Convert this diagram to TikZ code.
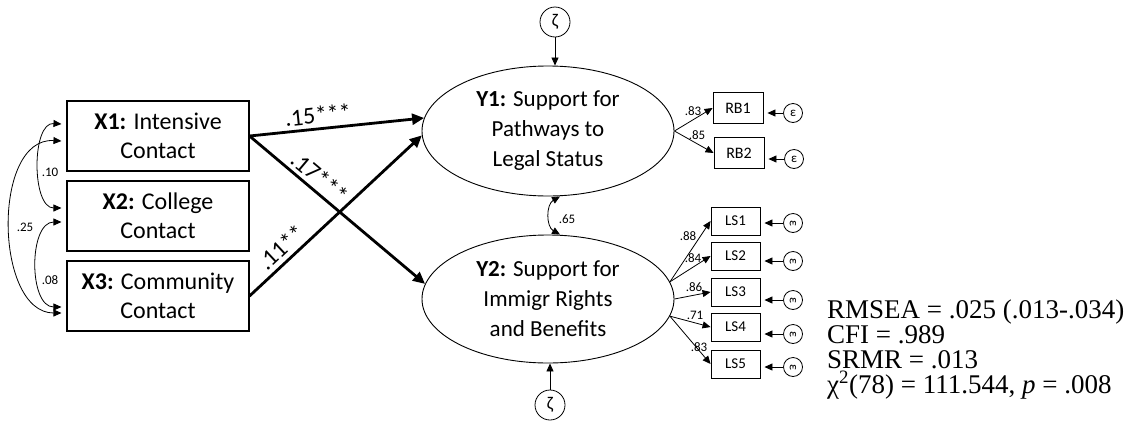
\documentclass[tikz,border=0pt]{standalone}
\usepackage{fontspec}
\setmainfont{Carlito}
\newfontfamily\statfont{Liberation Serif}
\usetikzlibrary{arrows.meta,shapes.geometric,calc}
\newcommand{\fsz}[2]{\fontsize{#1}{#2}\selectfont}

\begin{document}
\begin{tikzpicture}[x=1pt,y=-1pt,
  exo/.style={draw, line width=1.1pt, minimum width=182pt, minimum height=70pt,
    inner sep=0pt, align=center, font=\fsz{24}{29}},
  endo/.style={ellipse, draw, line width=0.9pt, minimum width=252pt, minimum height=130pt,
    inner sep=0pt, align=center, font=\fsz{23}{30}},
  ind/.style={draw, line width=0.9pt, minimum width=50pt, minimum height=31pt,
    inner sep=0pt, font=\fsz{16}{16}},
  lsbox/.style={ind, minimum width=49pt, minimum height=28pt, font=\fsz{15}{15}},
  err/.style={circle, draw, line width=0.8pt, minimum size=19pt, inner sep=0pt, font=\fsz{13}{13}},
  dist/.style={circle, draw, line width=0.8pt, minimum size=30pt, inner sep=0pt, font=\fsz{18}{18}},
  effect/.style={line width=2.8pt, -{Triangle[length=12pt,width=11pt]}},
  load/.style={line width=0.8pt, -{Triangle[length=8pt,width=7pt]}},
  cov/.style={line width=0.8pt, {Triangle[length=8pt,width=7pt]}-{Triangle[length=8pt,width=7pt]}},
  small/.style={font=\fsz{13}{13}, inner sep=0pt},
  coef/.style={font=\fsz{24}{24}, inner sep=4pt, sloped, above},
  stat/.style={font=\statfont\fsz{27}{27}, anchor=base west, inner sep=0pt}]

\useasboundingbox (0,0) rectangle (1135,421);

% exogenous predictors
\node[exo] (X1) at (158,136) {\textbf{X1:} Intensive\\Contact};
\node[exo] (X2) at (158,216) {\textbf{X2:} College\\Contact};
\node[exo] (X3) at (158,296) {\textbf{X3:} Community\\Contact};

% latent outcomes
\node[endo] (Y1) at (548,131) {\textbf{Y1:} Support for\\Pathways to\\Legal Status};
\node[endo, minimum height=128pt] (Y2) at (548,299) {\textbf{Y2:} Support for\\Immigr Rights\\and Benefits};

% disturbances
\node[dist] (Z1) at (555,22) {ζ};
\node[dist] (Z2) at (550,405) {ζ};
\draw[load] (Z1) -- (Z1 |- Y1.north);
\draw[load] (Z2) -- (Z2 |- Y2.south);

% indicators of Y1
\node[ind] (RB1) at (738,108) {RB1};
\node[ind] (RB2) at (739,153) {RB2};
\node[err] (E1) at (793,113) {ε};
\node[err] (E2) at (794,159) {ε};

% indicators of Y2
\foreach \i/\yb/\ye in {1/221/223, 2/256/261, 3/292/300, 4/327/334, 5/364/367}{
  \node[lsbox] (LS\i) at (735.5,\yb) {LS\i};
  \node[err, rotate=-90] (F\i) at (793,\ye) {ε};
  \draw[load, shorten >=4pt] (F\i) -- (F\i -| LS\i.east);
}
\draw[load, shorten >=4pt] (E1) -- (E1 -| RB1.east);
\draw[load, shorten >=4pt] (E2) -- (E2 -| RB2.east);

% loadings
\draw[load] (Y1.east) -- (RB1.west);
\draw[load] (Y1.east) -- (RB2.west);
\node[small] (l1) at (693,111) {.83};
\node[small] (l2) at (697,135) {.85};

\draw[load] (Y2.8) -- (LS1.west);
\draw[load] (Y2.8) -- (LS2.west);
\draw[load] (Y2.0) -- (LS3.west);
\draw[load] (Y2.-8) -- (LS4.west);
\draw[load] (Y2.-8) -- (LS5.west);
\node[small] (m1) at (688,236) {.88};
\node[small] (m2) at (693,258) {.84};
\node[small] (m3) at (694,287) {.86};
\node[small] (m4) at (695,315) {.71};
\node[small] (m5) at (699,347) {.83};

% structural paths
\draw[effect] (X1.east) -- node[coef, pos=0.4] {.15***} (Y1.174);
\draw[effect] (X1.east) -- node[coef, pos=0.35] {.17***} (Y2.173);
\draw[effect] (X3.east) -- node[coef, pos=0.24] {.11**} (Y1.182);

% residual covariance of the outcomes
\coordinate (r1) at ($(Y1.south)+(12,0)$);
\coordinate (r2) at ($(Y2.north)+(12,0)$);
\draw[cov] (r1) .. controls +(-14,8) and +(-14,-8) .. (r2);
\node[small] (c65) at (567,219) {.65};

% covariances of the predictors
\coordinate (a1) at ($(X1.west)+(-5,-12)$);
\coordinate (a2) at ($(X1.west)+(-5,5)$);
\coordinate (b1) at ($(X2.west)+(-5,-8)$);
\coordinate (b2) at ($(X2.west)+(-5,6)$);
\coordinate (c1) at ($(X3.west)+(-5,11)$);
\coordinate (c2) at ($(X3.west)+(-5,17)$);
\draw[cov] (a1) .. controls +(-30,-2) and +(-30,0) .. (b1);
\draw[cov] (a2) .. controls +(-70,-4) and +(-67,0) .. (c2);
\draw[cov] (b2) .. controls +(-33,0) and +(-33,0) .. (c1);
\node[small] (k10) at (50,172) {.10};
\node[small] (k25) at (25,227) {.25};
\node[small] (k08) at (50,280) {.08};

% fit statistics
\node[stat] (s1) at (827,318) {RMSEA = .025 (.013-.034)};
\node[stat] (s2) at (827,343) {CFI = .989};
\node[stat] (s3) at (827,368) {SRMR = .013};
\node[stat] (s4) at (827,393) {χ\textsuperscript{2}(78) = 111.544, \textit{p} = .008};
\end{tikzpicture}
\end{document}
